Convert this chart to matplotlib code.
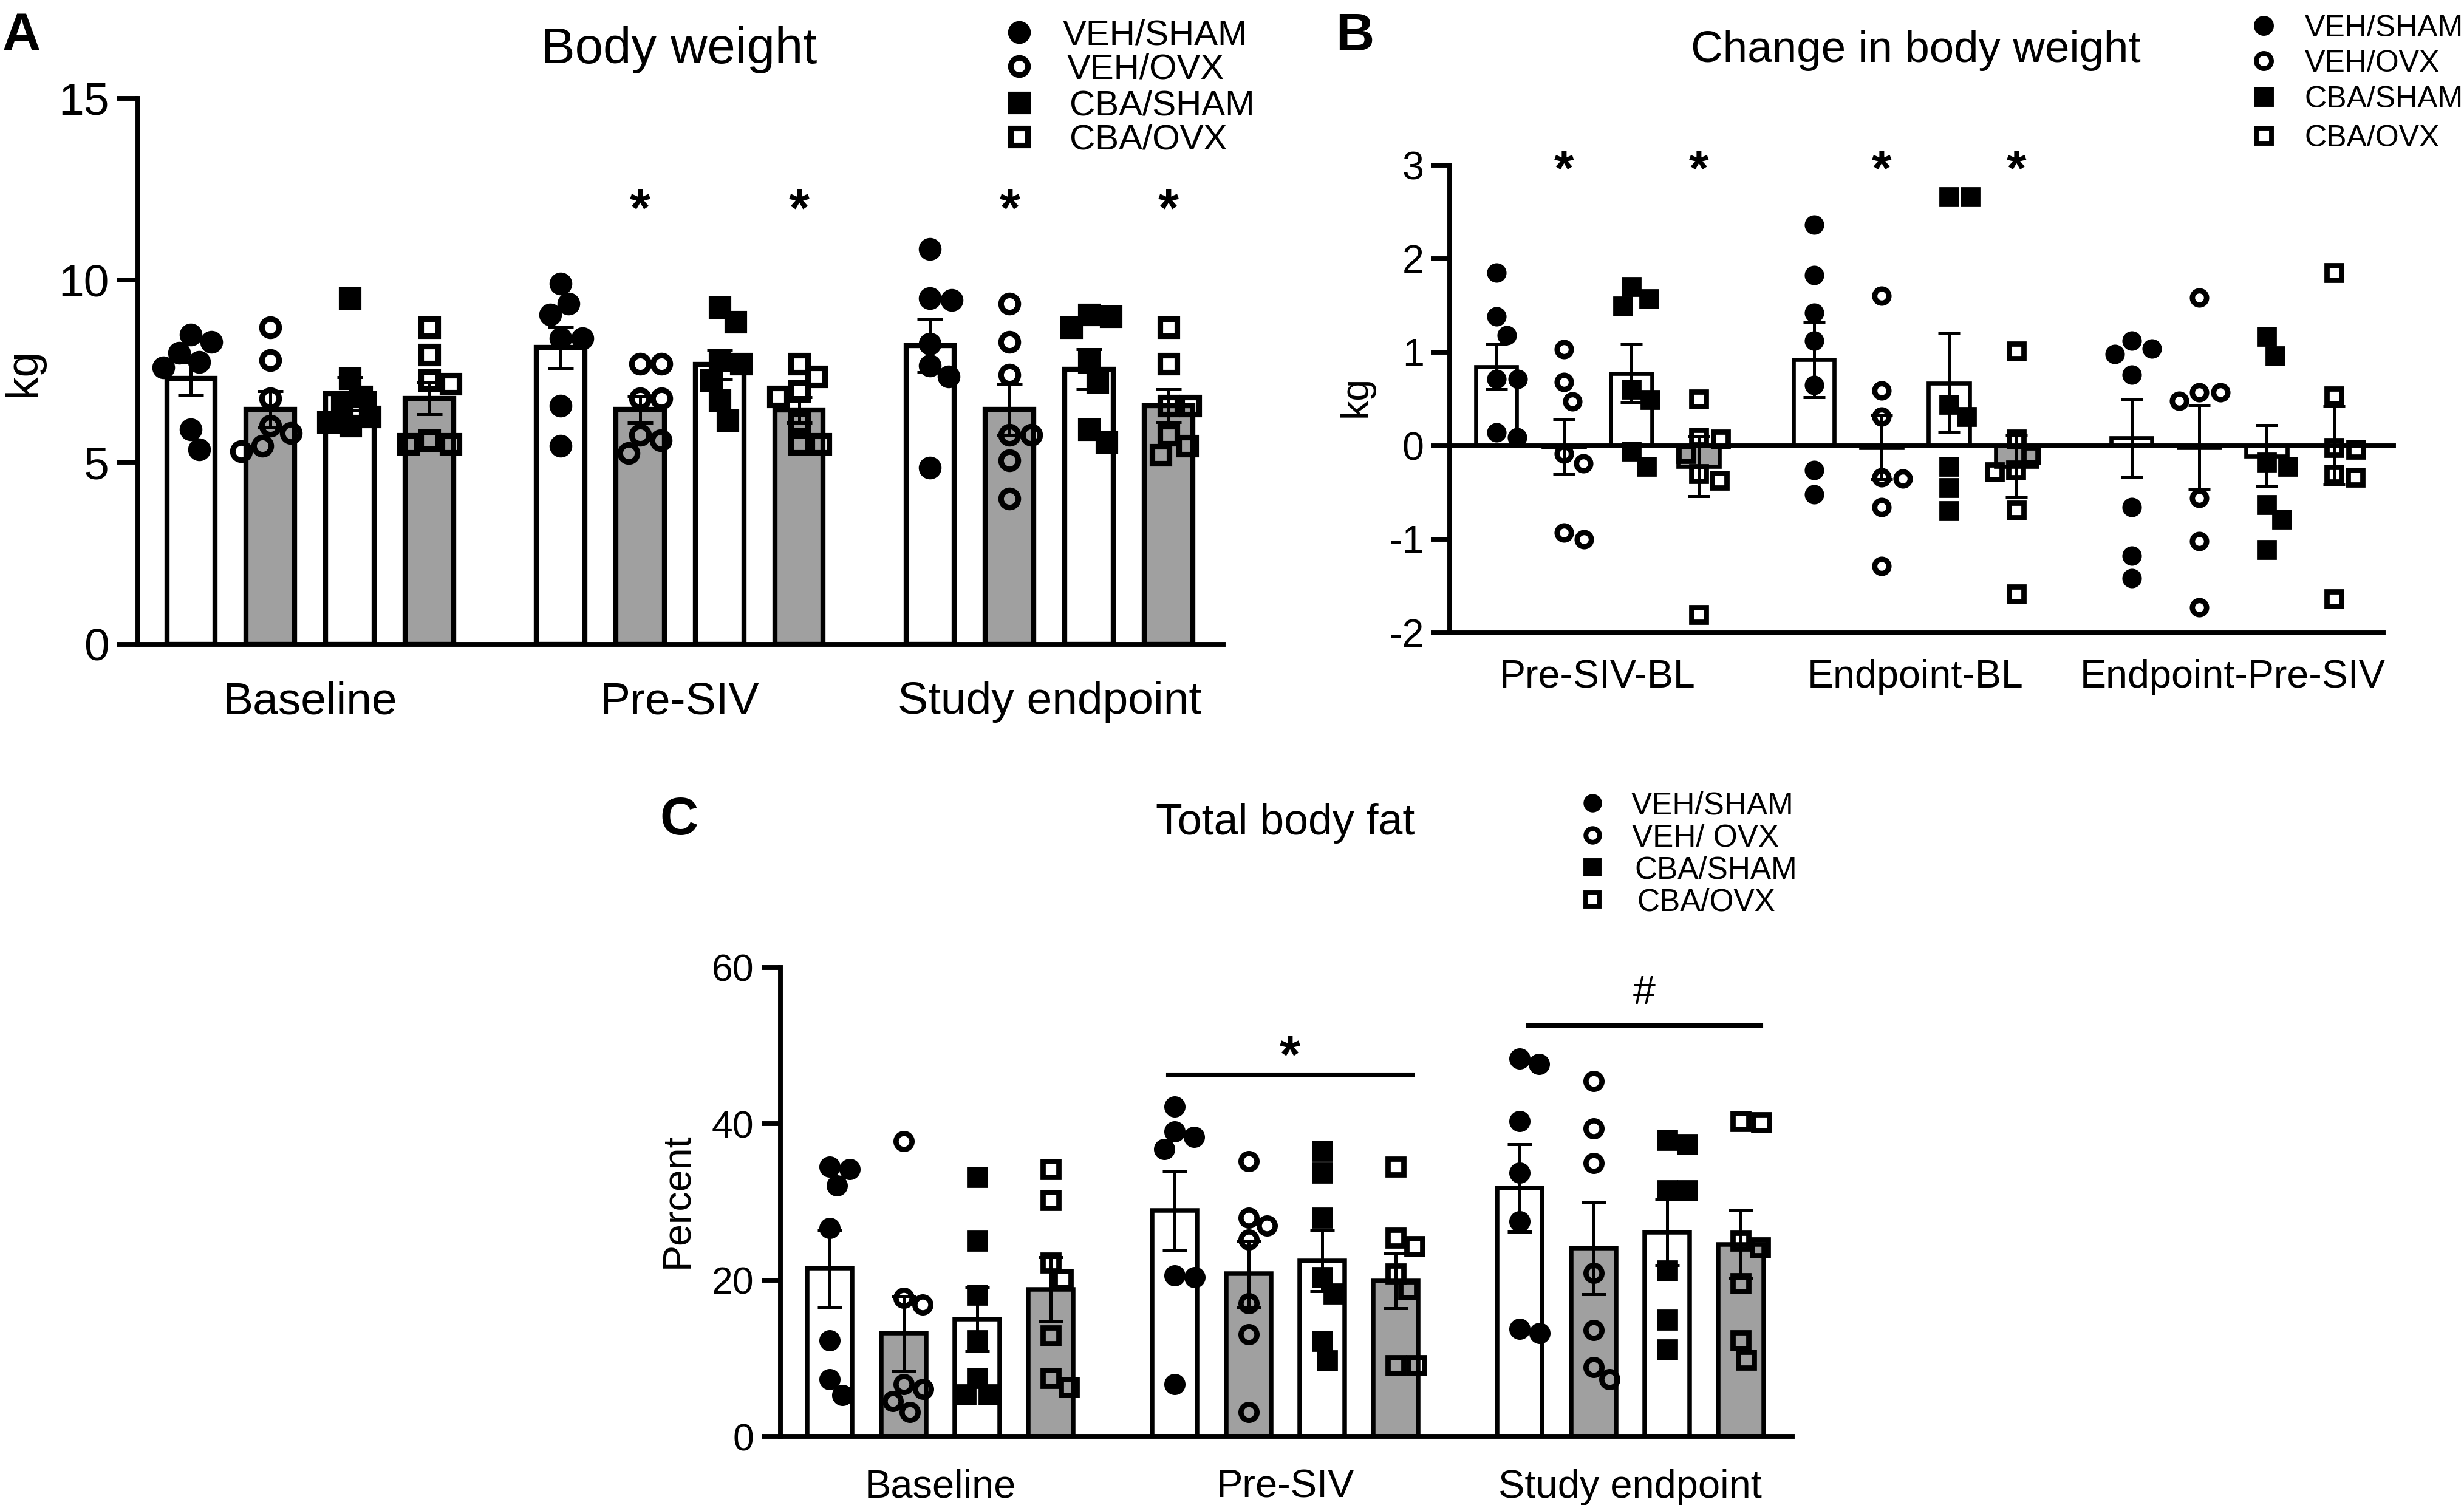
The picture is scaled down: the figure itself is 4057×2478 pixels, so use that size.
import numpy as np
import matplotlib.pyplot as plt
from matplotlib.lines import Line2D

plt.rcParams['font.family'] = ['Liberation Sans', 'DejaVu Sans']
plt.rcParams['axes.unicode_minus'] = False

# groups (same order in every panel)
groups = ['VEH/SHAM', 'VEH/OVX', 'CBA/SHAM', 'CBA/OVX']
groups_c = ['VEH/SHAM', 'VEH/ OVX', 'CBA/SHAM', 'CBA/OVX']

# A: body weight, kg
bw_times = ['Baseline', 'Pre-SIV', 'Study endpoint']
bw_mean = [[7.3, 6.45, 6.89, 6.75],
           [8.15, 6.45, 7.68, 6.43],
           [8.2, 6.45, 7.55, 6.55]]
bw_sem = [[0.45, 0.5, 0.45, 0.43],
          [0.56, 0.37, 0.4, 0.35],
          [0.73, 0.7, 0.55, 0.45]]
bw_pts = [[[8.5, 8.3, 8.0, 7.75, 7.6, 5.9, 5.35],
           [8.7, 7.8, 6.75, 6.0, 5.8, 5.45, 5.3],
           [9.5, 7.3, 6.8, 6.55, 6.25, 6.1, 6.0],
           [8.7, 7.95, 7.25, 7.15, 5.6, 5.5, 5.5]],
          [[9.9, 9.35, 9.05, 8.4, 8.4, 6.55, 5.45],
           [7.7, 7.7, 6.75, 6.75, 5.75, 5.6, 5.25],
           [9.25, 8.85, 7.8, 7.7, 7.25, 6.7, 6.15],
           [7.7, 7.35, 6.95, 6.8, 6.1, 5.5, 5.5]],
          [[10.85, 9.5, 9.45, 8.25, 7.65, 7.35, 4.85],
           [9.35, 8.3, 7.4, 5.75, 5.75, 5.05, 4.0],
           [9.05, 9.0, 8.7, 7.75, 7.2, 5.9, 5.55],
           [8.7, 7.7, 6.55, 6.55, 5.75, 5.45, 5.2]]]

# B: change in body weight, kg
chg_times = ['Pre-SIV-BL', 'Endpoint-BL', 'Endpoint-Pre-SIV']
chg_mean = [[0.84, -0.015, 0.77, -0.22],
            [0.92, -0.02, 0.67, -0.22],
            [0.08, -0.02, -0.11, 0.0]]
chg_sem = [[0.24, 0.295, 0.31, 0.32],
           [0.4, 0.34, 0.53, 0.33],
           [0.42, 0.45, 0.33, 0.42]]
chg_pts = [[[1.85, 1.38, 1.18, 0.71, 0.71, 0.14, 0.09],
            [1.03, 0.68, 0.47, -0.09, -0.19, -0.93, -1.0],
            [1.7, 1.57, 1.49, 0.6, 0.49, -0.06, -0.22],
            [0.5, 0.09, 0.07, -0.09, -0.3, -0.37, -1.81]],
           [[2.36, 1.82, 1.42, 1.12, 0.65, -0.26, -0.52],
            [1.6, 0.59, 0.31, -0.34, -0.35, -0.66, -1.29],
            [2.66, 2.66, 0.44, 0.31, -0.22, -0.45, -0.7],
            [1.01, 0.07, -0.1, -0.26, -0.28, -0.69, -1.59]],
           [[1.12, 1.04, 0.98, 0.76, -0.66, -1.18, -1.42],
            [1.58, 0.57, 0.57, 0.48, -0.56, -1.02, -1.73],
            [1.17, 0.96, -0.18, -0.22, -0.63, -0.79, -1.11],
            [1.85, 0.53, -0.02, -0.04, -0.31, -0.34, -1.64]]]

# C: total body fat, percent
fat_times = ['Baseline', 'Pre-SIV', 'Study endpoint']
fat_mean = [[21.5, 13.2, 15.0, 18.8],
            [28.9, 20.8, 22.5, 19.9],
            [31.8, 24.1, 26.1, 24.6]]
fat_sem = [[4.9, 4.8, 4.1, 4.1],
           [5.0, 4.2, 3.9, 3.5],
           [5.6, 5.9, 4.2, 4.4]]
fat_pts = [[[34.5, 34.2, 32.1, 26.7, 12.3, 7.3, 5.3],
            [37.8, 17.7, 16.9, 6.7, 6.1, 4.5, 3.1],
            [33.2, 25.0, 18.1, 12.3, 7.5, 5.4, 5.4],
            [34.2, 30.2, 22.2, 20.1, 12.9, 7.5, 6.3]],
           [[42.2, 39.0, 38.3, 36.8, 20.6, 20.4, 6.7],
            [35.2, 28.0, 27.0, 25.2, 17.0, 13.1, 3.1],
            [36.5, 33.7, 28.0, 20.4, 18.3, 12.2, 9.7],
            [34.5, 25.4, 24.3, 20.8, 18.8, 9.1, 9.1]],
           [[48.3, 47.6, 40.3, 33.7, 27.5, 13.8, 13.2],
            [45.5, 39.4, 35.0, 20.9, 13.6, 8.9, 7.3],
            [37.9, 37.4, 31.5, 31.5, 21.2, 14.9, 11.1],
            [40.3, 40.2, 25.0, 24.2, 19.6, 12.3, 9.8]]]

# style
bar_colors = ['white', '#a0a0a0', 'white', '#a0a0a0']
markers = ['o', 'o', 's', 's']
fills = ['black', 'none', 'black', 'none']

fig = plt.figure(figsize=(4057 / 300, 2478 / 300), dpi=300)


def swarm(ax, x0, vals, size_pt, spread):
    # simple beeswarm in pixel space so points don't pile up
    d = size_pt * fig.dpi / 72 * spread
    xy = ax.transData.transform(np.column_stack([np.full(len(vals), x0), vals]))
    px0 = xy[0, 0]
    ys = xy[:, 1]
    placed = []
    out = np.zeros(len(vals))
    for i in np.argsort(-np.asarray(vals), kind='stable'):
        y = ys[i]
        cands = [0.0]
        for px, py in placed:
            dy = abs(py - y)
            if dy < d:
                dx = np.sqrt(d * d - dy * dy)
                cands += [px + dx, px - dx]
        cands.sort(key=abs)
        c = cands[-1]
        for c in cands:
            if all((c - px) ** 2 + (y - py) ** 2 >= d * d - 1e-6 for px, py in placed):
                break
        placed.append((c, y))
        out[i] = c
    return ax.transData.inverted().transform(np.column_stack([px0 + out, ys]))[:, 0]


def draw_panel(ax, times, means, sems, pts, step, ms, mew, bar_lw, cap, spread=0.95):
    for g in range(len(times)):
        for k in range(4):
            x = g * step + k
            ax.bar(x, means[g][k], width=0.61, color=bar_colors[k], edgecolor='black',
                   linewidth=bar_lw, zorder=2)
            ax.errorbar(x, means[g][k], yerr=sems[g][k], fmt='none', ecolor='black',
                        elinewidth=1.2, capsize=cap, capthick=1.2, zorder=3)
            xs = swarm(ax, x, pts[g][k], ms + mew, spread)
            ax.plot(xs, pts[g][k], ls='none', marker=markers[k], ms=ms, mfc=fills[k],
                    mec='black', mew=mew, zorder=4)
    ax.set_xticks([g * step + 1.5 for g in range(len(times))])
    ax.set_xticklabels(times)
    for s in ['top', 'right']:
        ax.spines[s].set_visible(False)
    for s in ['left', 'bottom']:
        ax.spines[s].set_linewidth(1.9)


def legend(x_mk, x_txt, ys, labels, fs, ms, mew):
    for k in range(4):
        fig.add_artist(Line2D([x_mk], [ys[k]], transform=fig.transFigure, ls='none',
                              marker=markers[k], ms=ms, mfc=fills[k], mec='black', mew=mew))
        fig.text(x_txt[k], ys[k], labels[k], fontsize=fs, ha='left', va='center_baseline')


# ---------- A ----------
axA = fig.add_axes([0.0559, 0.5719, 0.4406, 0.3629])
stepA = 4.65
axA.set_xlim(-0.67, 12.99)
axA.set_ylim(0, 15)
draw_panel(axA, bw_times, bw_mean, bw_sem, bw_pts, stepA, 6.8, 2.2, 2.0, 5)
axA.set_yticks([0, 5, 10, 15])
axA.tick_params(axis='y', width=1.9, length=8.4, labelsize=18, pad=3)
axA.tick_params(axis='x', length=0, labelsize=18, pad=14.5)
for g in [1, 2]:
    for k in [1, 3]:
        axA.text(g * stepA + k, 11.5, '*', fontsize=21, fontweight='bold',
                 ha='center', va='baseline')
fig.text(0.2755, 0.9582, 'Body weight', fontsize=20, ha='center', va='baseline')
fig.text(0.0096, 0.7526, 'kg', fontsize=18, rotation=90, ha='center', va='center')
fig.text(0.001, 0.9666, 'A', fontsize=21, fontweight='bold', ha='left', va='baseline')
legend(0.4136, [0.4313, 0.4329, 0.434, 0.434], [0.9788, 0.9562, 0.932, 0.9094],
       groups, 14, 6.8, 2.2)

# ---------- B ----------
axB = fig.add_axes([0.5883, 0.5797, 0.3788, 0.3106])
stepB = 4.7
axB.set_xlim(-0.69, 13.12)
axB.set_ylim(-2, 3)
axB.plot([-0.69, 13.28], [0, 0], color='black', lw=1.9, zorder=2.5, clip_on=False)
draw_panel(axB, chg_times, chg_mean, chg_sem, chg_pts, stepB, 5.6, 2.1, 1.6, 4.3, spread=1.1)
axB.set_yticks([-2, -1, 0, 1, 2, 3])
axB.tick_params(axis='y', width=1.9, length=7.5, labelsize=15.5, pad=2.6)
axB.tick_params(axis='x', length=0, labelsize=15.5, pad=10.5)
for g in [0, 1]:
    for k in [1, 3]:
        axB.text(g * stepB + k, 2.78, '*', fontsize=20, fontweight='bold',
                 ha='center', va='baseline', clip_on=False)
fig.text(0.7774, 0.959, 'Change in body weight', fontsize=17.5, ha='center', va='baseline')
fig.text(0.5504, 0.7364, 'kg', fontsize=15.5, rotation=90, ha='center', va='center')
fig.text(0.542, 0.9666, 'B', fontsize=21, fontweight='bold', ha='left', va='baseline')
legend(0.9187, [0.9353, 0.9353, 0.9353, 0.9353], [0.983, 0.9598, 0.9358, 0.9102],
       groups, 12, 6.0, 1.9)

# ---------- C ----------
axC = fig.add_axes([0.3167, 0.0455, 0.4108, 0.3117])
stepC = 4.68
axC.set_xlim(-0.67, 13.06)
axC.set_ylim(0, 60)
draw_panel(axC, fat_times, fat_mean, fat_sem, fat_pts, stepC, 6.3, 2.1, 1.8, 4.7)
axC.set_yticks([0, 20, 40, 60])
axC.tick_params(axis='y', width=1.9, length=7.3, labelsize=15, pad=3.2)
axC.tick_params(axis='x', length=0, labelsize=15.6, pad=12.8)
# significance bars over Pre-SIV (*) and study endpoint (#)
x0, x1 = stepC - 0.09, stepC + 3.22
axC.plot([x0, x1], [46.3, 46.3], color='black', lw=1.7, clip_on=False)
axC.text((x0 + x1) / 2, 46.6, '*', fontsize=21, fontweight='bold', ha='center', va='baseline')
x0, x1 = 2 * stepC + 0.11, 2 * stepC + 3.27
axC.plot([x0, x1], [52.6, 52.6], color='black', lw=1.7, clip_on=False)
axC.text((x0 + x1) / 2, 55.3, '#', fontsize=16, ha='center', va='baseline')
fig.text(0.5217, 0.4457, 'Total body fat', fontsize=17.2, ha='center', va='baseline')
fig.text(0.2749, 0.2025, 'Percent', fontsize=15.5, rotation=90, ha='center', va='center')
fig.text(0.2679, 0.4457, 'C', fontsize=21, fontweight='bold', ha='left', va='baseline')
legend(0.6464, [0.6619, 0.6624, 0.6634, 0.6643], [0.4666, 0.4452, 0.4238, 0.4024],
       groups_c, 12.3, 5.4, 1.9)

fig.savefig('out.png', dpi=300)
